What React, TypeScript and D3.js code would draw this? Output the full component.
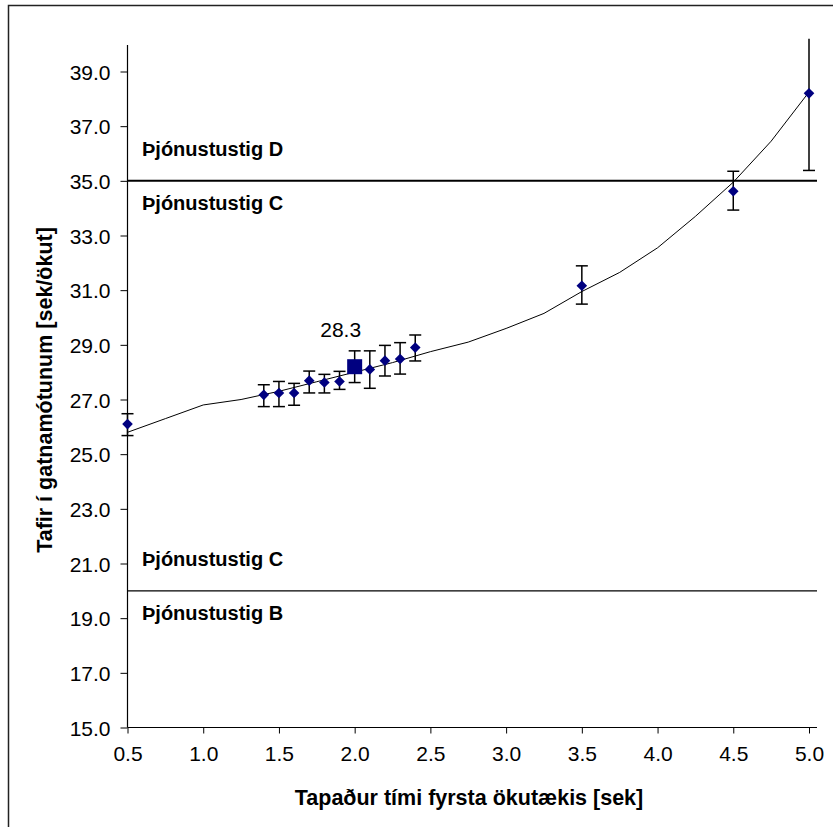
import React, { useEffect, useRef } from "react";
import * as d3 from "d3";

// measured points: lost time of first vehicle [sek] vs. delay [sek/ökut]
const xValues = [0.5, 1.4, 1.5, 1.6, 1.7, 1.8, 1.9, 2.1, 2.2, 2.3, 2.4, 3.5, 4.5, 5.0];
const yValues = [26.1, 27.17, 27.24, 27.24, 27.69, 27.62, 27.66, 28.1, 28.42, 28.48, 28.9, 31.16, 34.62, 38.2];
const yLow = [25.68, 26.74, 26.74, 26.79, 27.24, 27.24, 27.37, 27.41, 27.86, 27.93, 28.41, 30.49, 33.93, 35.38];
const yHigh = [26.48, 27.54, 27.66, 27.59, 28.04, 27.92, 28.03, 28.78, 28.98, 29.08, 29.36, 31.89, 35.35, 40.2];

// highlighted point
const markX = 2.0;
const markY = 28.2;
const markLow = 27.62;
const markHigh = 28.78;
const markLabel = "28.3";

// trend curve
const trendX = [0.5, 0.75, 1.0, 1.25, 1.5, 1.75, 2.0, 2.25, 2.5, 2.75, 3.0, 3.25, 3.5, 3.75, 4.0, 4.25, 4.5, 4.75, 5.0];
const trendY = [25.8, 26.3, 26.8, 27.0, 27.3, 27.65, 28.0, 28.35, 28.75, 29.1, 29.6, 30.15, 30.95, 31.65, 32.55, 33.7, 34.95, 36.45, 38.25];

const xTicks = [0.5, 1.0, 1.5, 2.0, 2.5, 3.0, 3.5, 4.0, 4.5, 5.0];
const yTicks = [15, 17, 19, 21, 23, 25, 27, 29, 31, 33, 35, 37, 39];

// service level boundaries
const levels = [
  { value: 35, above: "Þjónustustig D", below: "Þjónustustig C", width: 2 },
  { value: 20, above: "Þjónustustig C", below: "Þjónustustig B", width: 1.3 },
];

const W = 833;
const H = 827;
const FONT = "'Liberation Sans', Arial, sans-serif";

export default function App() {
  const ref = useRef<SVGSVGElement>(null);

  useEffect(() => {
    const svg = d3.select(ref.current);
    svg.selectAll("*").remove();

    const left = 127.5;
    const right = 817;
    const top = 45;
    const bottom = 727.5;

    const x = d3.scaleLinear().domain([0.5, 5.0]).range([left, 809]);
    const y = d3.scaleLinear().domain([15, 39]).range([bottom, 71.5]);

    // outer frame
    svg
      .append("rect")
      .attr("x", 8.5)
      .attr("y", 5.5)
      .attr("width", W + 20)
      .attr("height", H + 20)
      .attr("fill", "none")
      .attr("stroke", "#222")
      .attr("stroke-width", 1.5);

    // axes
    const yAxis = svg
      .append("g")
      .attr("transform", `translate(${left},0)`)
      .call(
        d3.axisLeft(y).tickValues(yTicks).tickSize(7).tickPadding(10).tickFormat(d3.format(".1f")) as any
      );
    yAxis.select(".domain").attr("d", `M0,${top}V${bottom}`).attr("stroke", "#000").attr("stroke-width", 1.2);
    yAxis.selectAll("text").attr("font-family", FONT).attr("font-size", 21).attr("fill", "#000").attr("dy", "0.36em");
    yAxis.selectAll("line").attr("stroke", "#000");

    const xAxis = svg
      .append("g")
      .attr("transform", `translate(0,${bottom})`)
      .call(
        d3.axisBottom(x).tickValues(xTicks).tickSize(6).tickPadding(13).tickFormat(d3.format(".1f")) as any
      );
    xAxis.select(".domain").attr("d", `M${left},0H${right}`).attr("stroke", "#000").attr("stroke-width", 1.2);
    xAxis.selectAll("text").attr("font-family", FONT).attr("font-size", 21).attr("fill", "#000");
    xAxis.selectAll("line").attr("stroke", "#000");

    // service level lines and labels
    levels.forEach((lv) => {
      svg
        .append("line")
        .attr("x1", left)
        .attr("x2", right)
        .attr("y1", y(lv.value))
        .attr("y2", y(lv.value))
        .attr("stroke", "#000")
        .attr("stroke-width", lv.width);
      svg
        .append("text")
        .attr("x", 142)
        .attr("y", y(lv.value) - 25)
        .attr("font-family", FONT)
        .attr("font-size", 20)
        .attr("font-weight", "bold")
        .text(lv.above);
      svg
        .append("text")
        .attr("x", 142)
        .attr("y", y(lv.value) + 29)
        .attr("font-family", FONT)
        .attr("font-size", 20)
        .attr("font-weight", "bold")
        .text(lv.below);
    });

    // trend line
    const line = d3
      .line<number>()
      .x((d, i) => x(trendX[i]))
      .y((d) => y(d));
    svg
      .append("path")
      .attr("d", line(trendY))
      .attr("fill", "none")
      .attr("stroke", "#000")
      .attr("stroke-width", 1);

    // error bars
    const allX = xValues.concat([markX]);
    const allLow = yLow.concat([markLow]);
    const allHigh = yHigh.concat([markHigh]);
    const err = svg.append("g").attr("stroke", "#000").attr("stroke-width", 1.5);
    allX.forEach((xv, i) => {
      const cx = x(xv);
      err.append("line").attr("x1", cx).attr("x2", cx).attr("y1", y(allLow[i])).attr("y2", y(allHigh[i]));
      err.append("line").attr("x1", cx - 6).attr("x2", cx + 6).attr("y1", y(allLow[i])).attr("y2", y(allLow[i]));
      if (allHigh[i] < 40)
        err.append("line").attr("x1", cx - 6).attr("x2", cx + 6).attr("y1", y(allHigh[i])).attr("y2", y(allHigh[i]));
    });

    // diamonds
    const diamond = d3.symbol().type(d3.symbolDiamond2).size(72);
    svg
      .append("g")
      .selectAll("path")
      .data(xValues)
      .enter()
      .append("path")
      .attr("d", diamond)
      .attr("transform", (d, i) => `translate(${x(d)},${y(yValues[i])})`)
      .attr("fill", "#000080");

    // highlighted square
    svg
      .append("rect")
      .attr("x", x(markX) - 7.5)
      .attr("y", y(markY) - 7.5)
      .attr("width", 15)
      .attr("height", 15)
      .attr("fill", "#000080");
    svg
      .append("text")
      .attr("x", x(markX) - 14)
      .attr("y", y(markY) - 30)
      .attr("text-anchor", "middle")
      .attr("font-family", FONT)
      .attr("font-size", 21)
      .text(markLabel);

    // titles
    svg
      .append("text")
      .attr("x", 469)
      .attr("y", 805)
      .attr("text-anchor", "middle")
      .attr("font-family", FONT)
      .attr("font-size", 21.5)
      .attr("font-weight", "bold")
      .text("Tapaður tími fyrsta ökutækis [sek]");
    svg
      .append("text")
      .attr("transform", `translate(52,390) rotate(-90)`)
      .attr("text-anchor", "middle")
      .attr("font-family", FONT)
      .attr("font-size", 21.5)
      .attr("font-weight", "bold")
      .text("Tafir í gatnamótunum [sek/ökut]");
  }, []);

  return (
    <svg
      ref={ref}
      width={W}
      height={H}
      style={{ position: "absolute", left: 0, top: 0, background: "#fff" }}
    />
  );
}
